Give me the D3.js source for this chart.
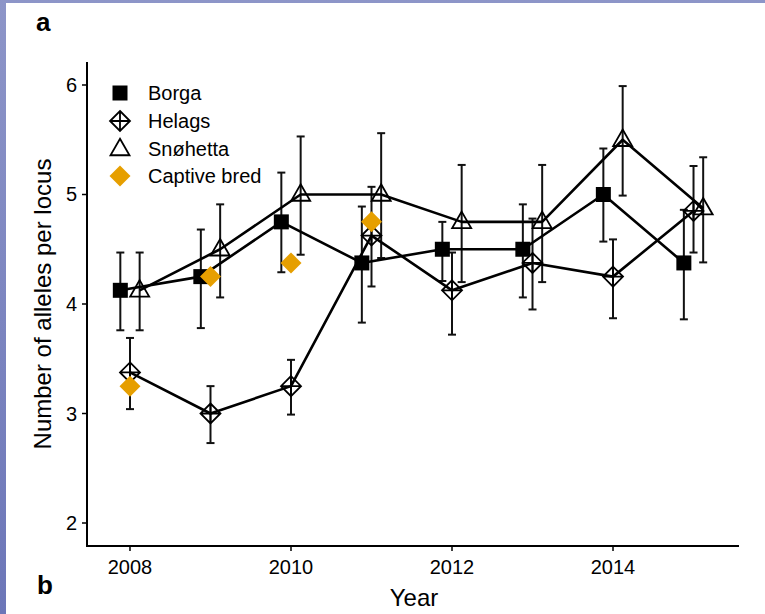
<!DOCTYPE html>
<html>
<head>
<meta charset="utf-8">
<script src="https://cdn.jsdelivr.net/npm/d3@7/dist/d3.min.js"></script>
<style>
  html, body { margin: 0; padding: 0; background: #ffffff; }
  svg { display: block; }
  text { font-family: "Liberation Sans", Arial, sans-serif; fill: #000; }
</style>
</head>
<body>
<script>
// Allelic richness per population and year (mean with error range)
const years = [2008, 2009, 2010, 2011, 2012, 2013, 2014, 2015];

const borgaMean = [4.125, 4.25, 4.75, 4.375, 4.5, 4.5, 5.0, 4.375];
const borgaLo   = [3.76, 3.78, 4.29, 3.83, 4.21, 4.06, 4.57, 3.86];
const borgaHi   = [4.47, 4.68, 5.20, 4.89, 4.75, 4.91, 5.42, 4.86];

const helagsMean = [3.375, 3.0, 3.25, 4.625, 4.125, 4.375, 4.25, 4.85];
const helagsLo   = [3.04, 2.73, 2.99, 4.16, 3.72, 3.95, 3.87, 4.47];
const helagsHi   = [3.69, 3.25, 3.49, 5.07, 4.47, 4.78, 4.59, 5.26];

const snoMean = [4.125, 4.5, 5.0, 5.0, 4.75, 4.75, 5.5, 4.875];
const snoLo   = [3.76, 4.06, 4.45, 4.42, 4.20, 4.20, 4.99, 4.38];
const snoHi   = [4.47, 4.91, 5.53, 5.56, 5.27, 5.27, 5.99, 5.34];

const captiveYears = [2008, 2009, 2010, 2011];
const captiveMean  = [3.25, 4.25, 4.375, 4.75];

const yTicks = [2, 3, 4, 5, 6];
const xTicks = [2008, 2010, 2012, 2014];

const legendLabels = ["Borga", "Helags", "Snøhetta", "Captive bred"];

const W = 765, H = 614;
const svg = d3.select("body").append("svg").attr("width", W).attr("height", H);

// page frame: bluish backdrop with white figure sheet
const defs = svg.append("defs");
const grad = defs.append("linearGradient").attr("id", "frameGrad")
  .attr("x1", 0).attr("y1", 0).attr("x2", 0).attr("y2", 1);
grad.append("stop").attr("offset", "0%").attr("stop-color", "#8d95c8");
grad.append("stop").attr("offset", "100%").attr("stop-color", "#6c76b8");
svg.append("rect").attr("width", W).attr("height", H).attr("fill", "url(#frameGrad)");
svg.append("rect").attr("x", 6).attr("y", 3).attr("width", W - 6).attr("height", H - 3).attr("fill", "#ffffff");

// scales
const x = d3.scaleLinear().domain([2007.466, 2015.565]).range([87, 739]);
const y = d3.scaleLinear().domain([1.79, 6.21]).range([546, 62]);

const dodge = { Borga: -0.12, Helags: 0, "Snøhetta": 0.12 };

const series = [
  { name: "Borga", mean: borgaMean, lo: borgaLo, hi: borgaHi },
  { name: "Helags", mean: helagsMean, lo: helagsLo, hi: helagsHi },
  { name: "Snøhetta", mean: snoMean, lo: snoLo, hi: snoHi }
];

const plot = svg.append("g");

// error bars
series.forEach(s => {
  const g = plot.append("g");
  years.forEach((yr, i) => {
    const cx = x(yr + dodge[s.name]);
    g.append("line").attr("x1", cx).attr("x2", cx)
      .attr("y1", y(s.lo[i])).attr("y2", y(s.hi[i]))
      .attr("stroke", "#111").attr("stroke-width", 2);
    [s.lo[i], s.hi[i]].forEach(v => {
      g.append("line").attr("x1", cx - 4).attr("x2", cx + 4)
        .attr("y1", y(v)).attr("y2", y(v))
        .attr("stroke", "#111").attr("stroke-width", 2);
    });
  });
});

// connecting lines
const line = d3.line();
series.forEach(s => {
  const pts = years.map((yr, i) => [x(yr + dodge[s.name]), y(s.mean[i])]);
  plot.append("path").attr("d", line(pts))
    .attr("fill", "none").attr("stroke", "#000").attr("stroke-width", 2.6)
    .attr("stroke-linejoin", "round");
});

// marker shapes
function drawSquare(g, cx, cy, size) {
  g.append("rect").attr("x", cx - size / 2).attr("y", cy - size / 2)
    .attr("width", size).attr("height", size).attr("fill", "#000");
}
function drawDiamondPlus(g, cx, cy, r) {
  g.append("path")
    .attr("d", `M${cx},${cy - r}L${cx + r},${cy}L${cx},${cy + r}L${cx - r},${cy}Z`
      + `M${cx},${cy - r}L${cx},${cy + r}M${cx - r},${cy}L${cx + r},${cy}`)
    .attr("fill", "none").attr("stroke", "#000").attr("stroke-width", 1.8);
}
function drawTriangle(g, cx, cy, r) {
  const h = r * 1.732;
  g.append("path")
    .attr("d", `M${cx},${cy - h * 0.62}L${cx + r},${cy + h * 0.38}L${cx - r},${cy + h * 0.38}Z`)
    .attr("fill", "none").attr("stroke", "#000").attr("stroke-width", 1.8)
    .attr("stroke-linejoin", "miter");
}
function drawDiamond(g, cx, cy, r, color) {
  g.append("path")
    .attr("d", `M${cx},${cy - r}L${cx + r},${cy}L${cx},${cy + r}L${cx - r},${cy}Z`)
    .attr("fill", color);
}

const marks = plot.append("g");
years.forEach((yr, i) => {
  drawSquare(marks, x(yr + dodge.Borga), y(borgaMean[i]), 15);
  drawDiamondPlus(marks, x(yr + dodge.Helags), y(helagsMean[i]), 10);
  drawTriangle(marks, x(yr + dodge["Snøhetta"]), y(snoMean[i]), 9.5);
});
captiveYears.forEach((yr, i) => {
  drawDiamond(marks, x(yr), y(captiveMean[i]), 10.5, "#E69F00");
});

// axes
const axisG = svg.append("g");
axisG.append("line").attr("x1", 87).attr("x2", 87).attr("y1", y.range()[1]).attr("y2", y.range()[0])
  .attr("stroke", "#000").attr("stroke-width", 2);
axisG.append("line").attr("x1", 86).attr("x2", 739).attr("y1", 546).attr("y2", 546)
  .attr("stroke", "#000").attr("stroke-width", 2);

yTicks.forEach(v => {
  axisG.append("line").attr("x1", 82).attr("x2", 87).attr("y1", y(v)).attr("y2", y(v))
    .attr("stroke", "#000").attr("stroke-width", 1.5);
  axisG.append("text").attr("x", 77).attr("y", y(v) + 7)
    .attr("text-anchor", "end").attr("font-size", 20).attr("fill", "#222").text(v);
});
xTicks.forEach(v => {
  axisG.append("line").attr("x1", x(v)).attr("x2", x(v)).attr("y1", 546).attr("y2", 551)
    .attr("stroke", "#000").attr("stroke-width", 1.5);
  axisG.append("text").attr("x", x(v)).attr("y", 574)
    .attr("text-anchor", "middle").attr("font-size", 20).attr("fill", "#222").text(v);
});

// axis titles
svg.append("text").attr("x", 414).attr("y", 606).attr("text-anchor", "middle")
  .attr("font-size", 24).text("Year");
svg.append("text").attr("transform", `translate(51,${y(4)}) rotate(-90)`)
  .attr("text-anchor", "middle").attr("font-size", 24).text("Number of alleles per locus");

// panel letters
svg.append("text").attr("x", 36).attr("y", 31).attr("font-size", 26).attr("font-weight", "bold").text("a");
svg.append("text").attr("x", 37).attr("y", 594).attr("font-size", 26).attr("font-weight", "bold").text("b");

// legend
const leg = svg.append("g");
const legY = [93, 121, 149, 176];
const legX = 120;
drawSquare(leg, legX, legY[0], 15);
drawDiamondPlus(leg, legX, legY[1], 10);
drawTriangle(leg, legX, legY[2], 9.5);
drawDiamond(leg, legX, legY[3], 10.5, "#E69F00");
legendLabels.forEach((lab, i) => {
  leg.append("text").attr("x", 148).attr("y", legY[i] + 7)
    .attr("font-size", 20).attr("fill", "#222").text(lab);
});
</script>
</body>
</html>
